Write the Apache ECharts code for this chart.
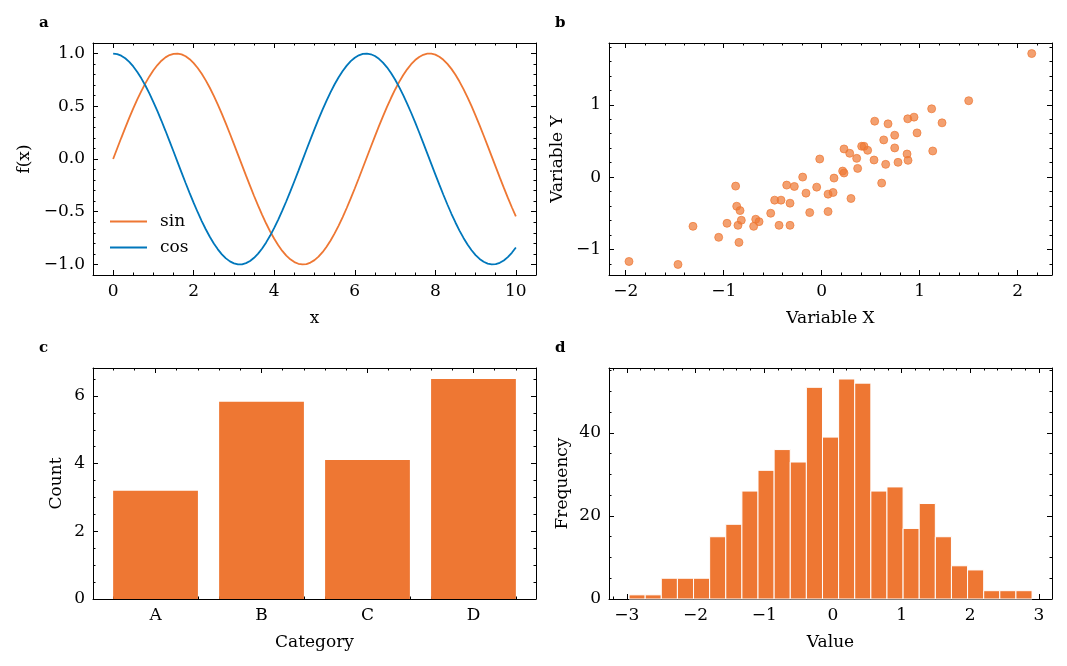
<!DOCTYPE html>
<html>
<head>
<meta charset="utf-8">
<title>panels</title>
<script src="https://cdn.jsdelivr.net/npm/echarts@6.0.0/dist/echarts.min.js"></script>
<style>
  html, body { margin: 0; padding: 0; background: #fff; }
  #main { width: 1067px; height: 666px; }
</style>
</head>
<body>
<div id="main"></div>
<script>
// panel a: curves sampled every 0.1 on x from 0 to 10
const xStep = 0.1;
const sinVals = [0.0000,0.0998,0.1987,0.2955,0.3894,0.4794,0.5646,0.6442,0.7174,0.7833,
                 0.8415,0.8912,0.9320,0.9636,0.9854,0.9975,0.9996,0.9917,0.9738,0.9463,
                 0.9093,0.8632,0.8085,0.7457,0.6755,0.5985,0.5155,0.4274,0.3350,0.2392,
                 0.1411,0.0416,-0.0584,-0.1577,-0.2555,-0.3508,-0.4425,-0.5298,-0.6119,-0.6878,
                 -0.7568,-0.8183,-0.8716,-0.9162,-0.9516,-0.9775,-0.9937,-0.9999,-0.9962,-0.9825,
                 -0.9589,-0.9258,-0.8835,-0.8323,-0.7728,-0.7055,-0.6313,-0.5507,-0.4646,-0.3739,
                 -0.2794,-0.1822,-0.0831,0.0168,0.1165,0.2151,0.3115,0.4048,0.4941,0.5784,
                 0.6570,0.7290,0.7937,0.8504,0.8987,0.9380,0.9679,0.9882,0.9985,0.9989,
                 0.9894,0.9699,0.9407,0.9022,0.8546,0.7985,0.7344,0.6630,0.5849,0.5010,
                 0.4121,0.3191,0.2229,0.1245,0.0248,-0.0752,-0.1743,-0.2718,-0.3665,-0.4575,
                 -0.5440];
const cosVals = [1.0000,0.9950,0.9801,0.9553,0.9211,0.8776,0.8253,0.7648,0.6967,0.6216,
                 0.5403,0.4536,0.3624,0.2675,0.1700,0.0707,-0.0292,-0.1288,-0.2272,-0.3233,
                 -0.4161,-0.5048,-0.5885,-0.6663,-0.7374,-0.8011,-0.8569,-0.9041,-0.9422,-0.9710,
                 -0.9900,-0.9991,-0.9983,-0.9875,-0.9668,-0.9365,-0.8968,-0.8481,-0.7910,-0.7259,
                 -0.6536,-0.5748,-0.4903,-0.4008,-0.3073,-0.2108,-0.1122,-0.0124,0.0875,0.1865,
                 0.2837,0.3780,0.4685,0.5544,0.6347,0.7087,0.7756,0.8347,0.8855,0.9275,
                 0.9602,0.9833,0.9965,0.9999,0.9932,0.9766,0.9502,0.9144,0.8694,0.8157,
                 0.7539,0.6845,0.6084,0.5261,0.4385,0.3466,0.2513,0.1534,0.0540,-0.0460,
                 -0.1455,-0.2435,-0.3392,-0.4314,-0.5193,-0.6020,-0.6787,-0.7486,-0.8111,-0.8654,
                 -0.9111,-0.9477,-0.9748,-0.9922,-0.9997,-0.9972,-0.9847,-0.9624,-0.9304,-0.8892,
                 -0.8391];

// panel b: scatter
const scatterX = [2.143,1.50,1.122,0.942,0.878,1.228,0.541,0.677,0.745,0.973,0.633,0.228,0.286,0.408,0.432,0.469,
                  0.745,1.133,0.871,0.881,0.779,0.653,0.534,0.357,0.367,-0.020,0.214,0.228,0.126,0.612,0.299,0.116,
                  0.065,0.065,-0.051,-0.160,-0.194,-0.122,-0.323,-0.279,-0.357,-0.415,-0.480,-0.520,-0.435,-0.323,
                  -0.878,-0.867,-0.833,-0.820,-0.854,-0.673,-0.639,-0.694,-0.966,-1.051,-0.844,-1.313,-1.466,-1.966];
const scatterY = [1.708,1.056,0.944,0.829,0.806,0.750,0.773,0.736,0.579,0.611,0.514,0.389,0.329,0.426,0.426,0.370,
                  0.403,0.361,0.319,0.231,0.204,0.176,0.236,0.259,0.120,0.250,0.083,0.056,-0.014,-0.083,-0.296,-0.213,
                  -0.236,-0.477,-0.139,-0.222,0.000,-0.491,-0.361,-0.130,-0.111,-0.319,-0.319,-0.500,-0.667,-0.667,
                  -0.125,-0.403,-0.463,-0.597,-0.667,-0.583,-0.616,-0.681,-0.639,-0.833,-0.903,-0.681,-1.208,-1.167];

// panel c: bars
const categories = ['A', 'B', 'C', 'D'];
const counts = [3.2, 5.83, 4.11, 6.5];

// panel d: histogram
const histStart = -2.968;
const binWidth = 0.2347;
const histCounts = [1,1,5,5,5,15,18,26,31,36,33,51,39,53,52,26,27,17,23,15,8,7,2,2,2];

// tick labels
const aXTicks = [0,2,4,6,8,10], aYTicks = [-1,-0.5,0,0.5,1];
const bXTicks = [-2,-1,0,1,2], bYTicks = [-1,0,1];
const cXTicks = [0,1,2,3], cYTicks = [0,2,4,6];
const dXTicks = [-3,-2,-1,0,1,2,3], dYTicks = [0,20,40];

const ORANGE = '#EE7733', BLUE = '#0077BB';
const FONT = 'DejaVu Serif';

function steps(min, max, step) {
    let out = [];
    let v = Math.ceil(min / step - 1e-9) * step;
    for (; v <= max + 1e-9; v += step) out.push(+v.toFixed(6));
    return out;
}
const minus = s => String(s).replace('-', '\u2212');
const intFmt = v => minus(v);

const grids = [
    { left: 93, top: 43, width: 443, height: 232 },
    { left: 609, top: 43, width: 443, height: 232 },
    { left: 93, top: 368, width: 443, height: 231 },
    { left: 609, top: 368, width: 443, height: 231 }
];

let xAxes = [], yAxes = [];
const lineStyle = { color: '#000', width: 1 };

function addAxes(list, dim, g, min, max, majors, minorStep, fmt, name, nameGap) {
    const pos = dim === 'x' ? ['bottom', 'top'] : ['left', 'right'];
    const minors = steps(min, max, minorStep);
    pos.forEach((p, k) => {
        list.push({
            type: 'value', gridIndex: g, min, max, position: p,
            axisLine: { show: true, onZero: false, lineStyle },
            axisTick: { show: true, inside: true, length: 5, customValues: majors, lineStyle },
            axisLabel: k === 0 ? { show: true, customValues: majors, formatter: fmt, margin: 8,
                                   color: '#000', fontSize: 17, fontFamily: FONT } : { show: false },
            splitLine: { show: false },
            name: k === 0 ? name : '', nameLocation: 'middle', nameGap,
            nameTextStyle: { color: '#000', fontSize: 17, fontFamily: FONT }
        });
        list.push({
            type: 'value', gridIndex: g, min, max, position: p,
            axisLine: { show: false, onZero: false },
            axisTick: { show: true, inside: true, length: 2.5, customValues: minors, lineStyle },
            axisLabel: { show: false }, splitLine: { show: false }
        });
    });
}

addAxes(xAxes, 'x', 0, -0.5, 10.5, aXTicks, 0.5, intFmt, 'x', 35);
addAxes(yAxes, 'y', 0, -1.1, 1.1, aYTicks, 0.1, v => minus(v.toFixed(1)), 'f(x)', 60);
addAxes(xAxes, 'x', 1, -2.17, 2.35, bXTicks, 0.2, intFmt, 'Variable X', 35);
addAxes(yAxes, 'y', 1, -1.354, 1.854, bYTicks, 0.2, intFmt, 'Variable Y', 43);
addAxes(xAxes, 'x', 2, -0.59, 3.59, cXTicks, 0.2, v => categories[v], 'Category', 35);
addAxes(yAxes, 'y', 2, 0, 6.825, cYTicks, 0.5, intFmt, 'Count', 28);
addAxes(xAxes, 'x', 3, -3.26, 3.19, dXTicks, 0.2, intFmt, 'Value', 35);
addAxes(yAxes, 'y', 3, 0, 55.65, dYTicks, 5, intFmt, 'Frequency', 38);

const myChart = echarts.init(document.getElementById('main'), null, { renderer: 'canvas' });

myChart.setOption({
    animation: false,
    backgroundColor: '#fff',
    textStyle: { fontFamily: FONT },
    title: [
        { text: 'a', left: 34, top: 11 },
        { text: 'b', left: 550, top: 11 },
        { text: 'c', left: 34, top: 336 },
        { text: 'd', left: 550, top: 336 }
    ].map(t => Object.assign(t, { textStyle: { fontFamily: FONT, fontWeight: 'bold', fontSize: 15, color: '#000' } })),
    legend: {
        data: ['sin', 'cos'], orient: 'vertical', left: 105, top: 208,
        icon: 'rect', itemWidth: 37, itemHeight: 2, itemGap: 9,
        textStyle: { fontFamily: FONT, fontSize: 17, color: '#000', padding: [0, 0, 0, 8] }
    },
    grid: grids,
    xAxis: xAxes,
    yAxis: yAxes,
    series: [
        {
            name: 'sin', type: 'line', xAxisIndex: 0, yAxisIndex: 0, showSymbol: false, smooth: false,
            data: sinVals.map((v, i) => [+(i * xStep).toFixed(1), v]), color: ORANGE,
            lineStyle: { width: 1.8, color: ORANGE }
        },
        {
            name: 'cos', type: 'line', xAxisIndex: 0, yAxisIndex: 0, showSymbol: false, smooth: false,
            data: cosVals.map((v, i) => [+(i * xStep).toFixed(1), v]), color: BLUE,
            lineStyle: { width: 1.8, color: BLUE }
        },
        {
            type: 'scatter', xAxisIndex: 4, yAxisIndex: 4, symbolSize: 8,
            data: scatterX.map((x, i) => [x, scatterY[i]]),
            itemStyle: { color: 'rgba(238,119,51,0.7)', borderColor: 'rgba(238,119,51,0.7)', borderWidth: 1, opacity: 1 }
        },
        {
            type: 'custom', xAxisIndex: 8, yAxisIndex: 8,
            data: counts.map((v, i) => [i, v]),
            renderItem: (params, api) => {
                const p0 = api.coord([api.value(0) - 0.4, api.value(1)]);
                const p1 = api.coord([api.value(0) + 0.4, 0]);
                return { type: 'rect', shape: { x: p0[0], y: p0[1], width: p1[0] - p0[0], height: p1[1] - p0[1] },
                         style: { fill: ORANGE } };
            }
        },
        {
            type: 'custom', xAxisIndex: 12, yAxisIndex: 12,
            data: histCounts.map((c, i) => [histStart + i * binWidth, histStart + (i + 1) * binWidth, c]),
            renderItem: (params, api) => {
                const p0 = api.coord([api.value(0), api.value(2)]);
                const p1 = api.coord([api.value(1), 0]);
                return { type: 'rect', shape: { x: p0[0], y: p0[1], width: p1[0] - p0[0], height: p1[1] - p0[1] },
                         style: { fill: ORANGE, stroke: '#fff', lineWidth: 1 } };
            }
        }
    ]
});
window.addEventListener('resize', () => myChart.resize());
</script>
</body>
</html>
